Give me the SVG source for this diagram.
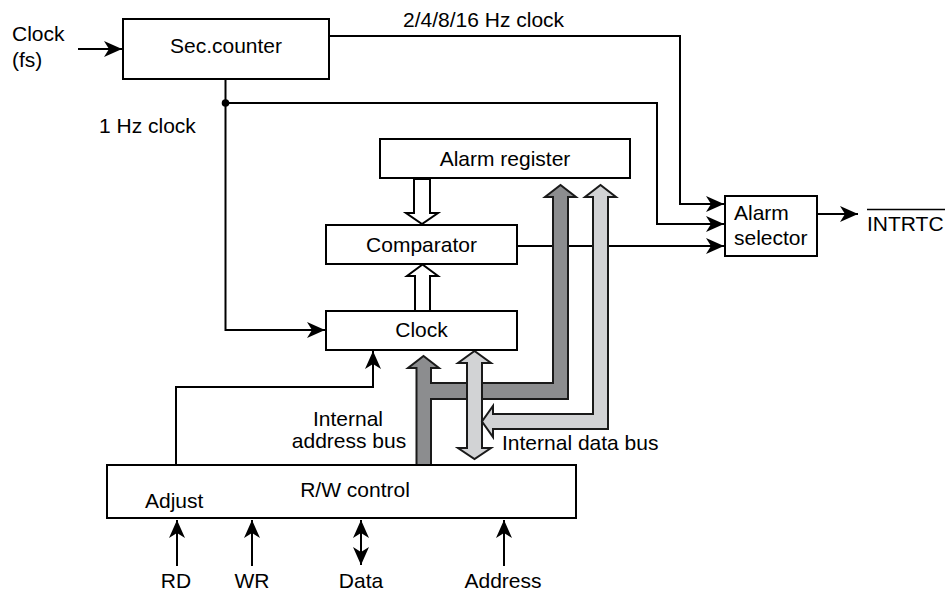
<svg xmlns="http://www.w3.org/2000/svg" width="946" height="593" viewBox="0 0 946 593">
<style>
text{font-family:"Liberation Sans",Arial,sans-serif;font-size:21px;fill:#000}
.box{fill:#fff;stroke:#000;stroke-width:2}
.ln{fill:none;stroke:#000;stroke-width:2}
.arr{marker-end:url(#ah)}
.hollow{fill:#fff;stroke:#000;stroke-width:2;stroke-linejoin:miter}
.dark{fill:#8c8d8f;stroke:#1a1a1a;stroke-width:2;stroke-linejoin:miter}
.light{fill:#d2d3d5;stroke:#1a1a1a;stroke-width:2;stroke-linejoin:miter}
.mid{text-anchor:middle}
</style>
<defs>
<marker id="ah" viewBox="0 0 18 16" refX="18" refY="8" markerWidth="18" markerHeight="16" markerUnits="userSpaceOnUse" orient="auto-start-reverse">
<path d="M0,0 L18,8 L0,16 L5,8 Z" fill="#000"/>
</marker>
</defs>
<rect width="946" height="593" fill="#fff"/>

<g id="connectors">
<polyline class="ln arr" points="78,49 122,49"/>
<polyline class="ln arr" points="329,36 680,36 680,204 724,204"/>
<polyline class="ln" points="225.5,79 225.5,103"/>
<polyline class="ln arr" points="225.5,103 657,103 657,224 724,224"/>
<polyline class="ln arr" points="225.5,103 225.5,330 325,330"/>
<circle cx="225.5" cy="103" r="3.8" fill="#000"/>
<polyline class="ln arr" points="517,246 724,246"/>
<polyline class="ln arr" points="817,214 858,214"/>
<polyline class="ln arr" points="176,465 176,387 373,387 373,351"/>
<polyline class="ln arr" points="177,566 177,520"/>
<polyline class="ln arr" points="252,566 252,520"/>
<polyline class="ln arr" points="361,565 361,520" marker-start="url(#ah)"/>
<polyline class="ln arr" points="504,566 504,520"/>
<polygon class="hollow" points="414,179 414,213 406,213 422,224 438,213 430,213 430,179"/>
<polygon class="hollow" points="415,311 415,276 407,276 422.5,264.5 438,276 430,276 430,311"/>
<polygon class="dark" points="416.5,466 416.5,368 408,368 423.5,356 439,368 431,368 431,383 553,383 553,197 545,197 560.5,185 576,197 568,197 568,399 431,399 431,466"/>
<polygon class="light" points="467,448 458,448 474.5,459 491,448 482,448 482,363 491,363 474.5,351 458,363 467,363"/>
<polygon class="light" points="493,414 593,414 593,197 585,197 600.5,185 616,197 608,197 608,429 493,429 493,437 482,421.5 493,406"/>
</g>

<g id="sec-counter">
<rect class="box" x="123" y="19" width="206" height="60"/>
<text class="mid" x="226" y="53">Sec.counter</text>
</g>
<g id="alarm-register">
<rect class="box" x="380" y="139" width="250" height="39"/>
<text class="mid" x="505" y="166">Alarm register</text>
</g>
<g id="comparator">
<rect class="box" x="326" y="225" width="191" height="39"/>
<text class="mid" x="421.5" y="252">Comparator</text>
</g>
<g id="clock">
<rect class="box" x="326" y="311" width="191" height="39"/>
<text class="mid" x="421.5" y="337">Clock</text>
</g>
<g id="alarm-selector">
<rect class="box" x="725" y="196" width="92" height="60"/>
<text x="734" y="220">Alarm</text>
<text x="734" y="245">selector</text>
</g>
<g id="rw-control">
<rect class="box" x="107" y="465" width="469" height="53"/>
<text class="mid" x="355" y="497">R/W control</text>
<text x="145" y="508">Adjust</text>
</g>

<g id="labels">
<text x="12" y="41">Clock</text>
<text x="12" y="67">(fs)</text>
<text x="403" y="27">2/4/8/16 Hz clock</text>
<text x="99" y="133">1 Hz clock</text>
<text x="867" y="231">INTRTC</text>
<line x1="867" y1="209.5" x2="945" y2="209.5" stroke="#000" stroke-width="1.5"/>
<text class="mid" x="348" y="426">Internal</text>
<text class="mid" x="349" y="448">address bus</text>
<text x="502" y="450">Internal data bus</text>
<text class="mid" x="176" y="588">RD</text>
<text class="mid" x="252" y="588">WR</text>
<text class="mid" x="361" y="588">Data</text>
<text class="mid" x="503" y="588">Address</text>
</g>
</svg>
